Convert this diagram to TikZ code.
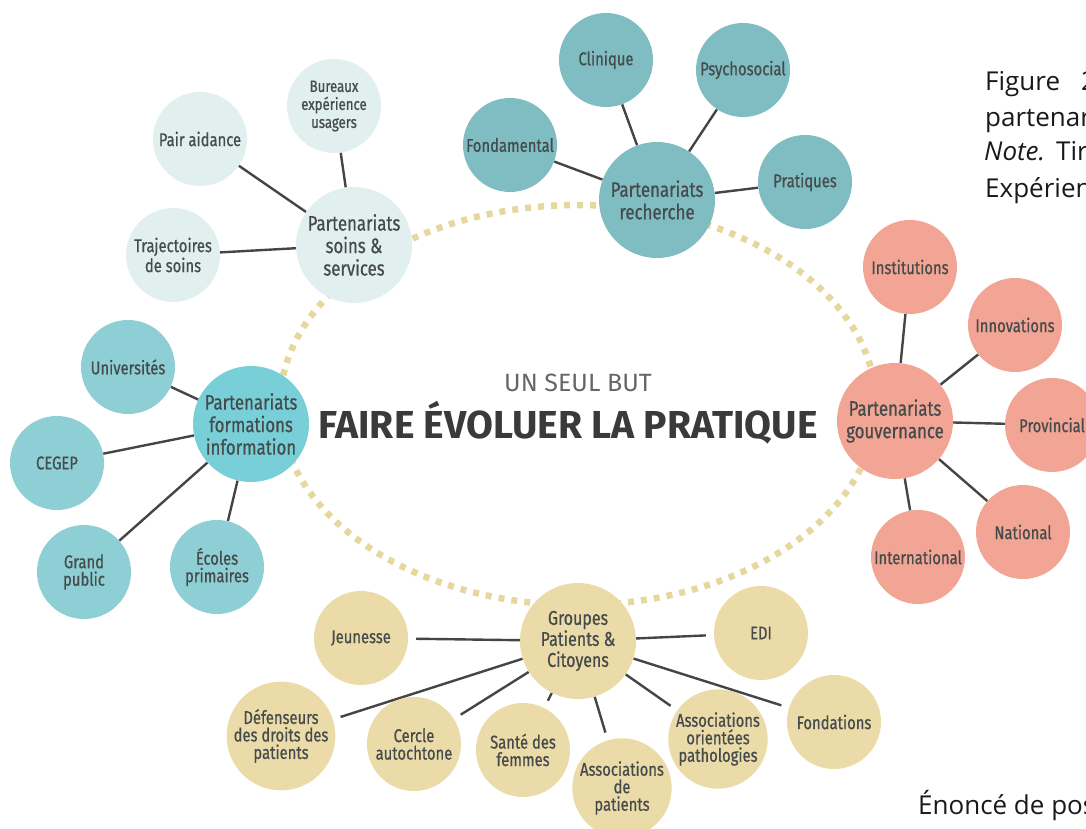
\documentclass[tikz,border=0pt]{standalone}
\usepackage{fontspec}
\setmainfont{Open Sans}
\newfontfamily\labfont[FakeStretch=0.8,FakeBold=0.6]{Fira Sans}
\newfontfamily\headfont{Fira Sans}
\pgfdeclarelayer{bg}
\pgfsetlayers{bg,main}

\definecolor{rech}{HTML}{80BDC2}
\definecolor{soins}{HTML}{E2EFEF}
\definecolor{form}{HTML}{8ECFD5}
\definecolor{formhub}{HTML}{78CFD7}
\definecolor{gouv}{HTML}{F3A595}
\definecolor{pat}{HTML}{EBDBA8}
\definecolor{labc}{HTML}{454A4B}
\definecolor{linec}{HTML}{454545}
\definecolor{ringc}{HTML}{E6D79F}
\definecolor{headgray}{HTML}{666666}
\definecolor{headdark}{HTML}{3A3A3A}

\tikzset{
  hub/.style={circle, minimum size=116pt, inner sep=0pt, align=center,
    text=labc, font=\labfont\fontsize{21}{22.5}\selectfont},
  leaf/.style={circle, minimum size=94pt, inner sep=0pt, align=center,
    text=labc, font=\labfont\fontsize{18.5}{17.5}\selectfont},
  smallleaf/.style={leaf, font=\labfont\fontsize{16.5}{18}\selectfont},
  link/.style={draw=linec, line width=2.4pt},
  gaplink/.style={link, shorten >=8pt},
  ring/.style={draw=ringc, line width=6.5pt, dash pattern=on 6pt off 7pt},
  side/.style={anchor=base west, inner sep=0pt, text=black!90,
    font=\fontsize{26}{30}\selectfont}
}

\begin{document}
\begin{tikzpicture}[x=1pt,y=-1pt]
\useasboundingbox (0,0) rectangle (1086,829);
\clip (0,0) rectangle (1086,829);

% research partnerships
\node[hub,  fill=rech] (rech) at (657,200) {Partenariats\\recherche};
\node[leaf, fill=rech] (clin) at (606,60)  {Clinique};
\node[leaf, fill=rech] (psy)  at (743,70)  {Psychosocial};
\node[leaf, fill=rech] (fond) at (510,145) {Fondamental};
\node[leaf, fill=rech] (prat) at (805,182) {Pratiques};

% care and services partnerships
\node[hub,  fill=soins] (soin) at (354,245) {Partenariats\\soins \&\\services};
\node[smallleaf, fill=soins] (bur)  at (334,106) {Bureaux\\expérience\\usagers};
\node[leaf, fill=soins] (pair) at (200,139) {Pair aidance};
\node[leaf, fill=soins, font=\labfont\fontsize{18.5}{20}\selectfont] (traj) at (173,255) {Trajectoires\\de soins};

% training and information partnerships
\node[hub,  fill=formhub] (form) at (251,424) {Partenariats\\formations\\information};
\node[leaf, fill=form] (univ) at (128,367) {Universités};
\node[leaf, fill=form] (cegep) at (57,463) {CEGEP};
\node[leaf, fill=form] (grand) at (84,572) {Grand\\public};
\node[leaf, fill=form] (ecol) at (217,567) {Écoles\\primaires};

% governance partnerships
\node[hub,  fill=gouv] (gouv) at (895,421) {Partenariats\\gouvernance};
\node[leaf, fill=gouv] (inst) at (910,267) {Institutions};
\node[leaf, fill=gouv] (innov) at (1015,325) {Innovations};
\node[leaf, fill=gouv] (prov) at (1052,425) {Provincial};
\node[leaf, fill=gouv] (nat) at (1023,532) {National};
\node[leaf, fill=gouv] (intl) at (918,557) {International};

% patient and citizen groups
\node[hub,  fill=pat, font=\labfont\fontsize{20}{21}\selectfont] (pat) at (578,641) {Groupes\\Patients \&\\Citoyens};
\node[leaf, fill=pat] (jeun) at (361,638) {Jeunesse};
\node[leaf, fill=pat] (edi) at (761,633) {EDI};
\node[leaf, fill=pat] (def) at (281,736) {Défenseurs\\des droits des\\patients};
\node[leaf, fill=pat] (cerc) at (414,744) {Cercle\\autochtone};
\node[leaf, fill=pat] (sante) at (523,750) {Santé des\\femmes};
\node[leaf, fill=pat] (asspat) at (622,788) {Associations\\de\\patients};
\node[leaf, fill=pat] (assor) at (718,739) {Associations\\orientées\\pathologies};
\node[leaf, fill=pat] (fondat) at (834,722) {Fondations};

% central goal
\node[font=\headfont\fontsize{25}{28}\selectfont, text=headgray] (goal) at (578,383) {UN SEUL BUT};
\node[font=\headfont\bfseries\fontsize{39}{44}\selectfont, text=headdark] (pratique) at (568,423) {FAIRE ÉVOLUER LA PRATIQUE};

\begin{pgfonlayer}{bg}
  \draw[ring] (578,405) ellipse [x radius=298pt, y radius=200pt];
  \foreach \l in {clin,psy,fond,prat} \draw[link] (rech) -- (\l);
  \foreach \l in {bur,pair,traj} \draw[link] (soin) -- (\l);
  \foreach \l in {univ,cegep,grand,ecol} \draw[link] (form) -- (\l);
  \foreach \l in {inst,innov,prov,nat,intl} \draw[link] (gouv) -- (\l);
  \foreach \l in {jeun,edi,def,cerc,sante,asspat,assor,fondat} \draw[gaplink] (pat) -- (\l);
\end{pgfonlayer}

% caption text at the right margin
\node[side] (cap1) at (985,91)  {Figure\hspace{21pt}2.\ Les partenariats};
\node[side] (cap2) at (985,127) {partenariats};
\node[side] (cap3) at (984,161) {\textit{Note.}\hspace{11pt}Tiré de};
\node[side] (cap4) at (985,197) {Expérience};
\node[side] (cap5) at (918,814) {Énoncé de position};
\end{tikzpicture}
\end{document}
